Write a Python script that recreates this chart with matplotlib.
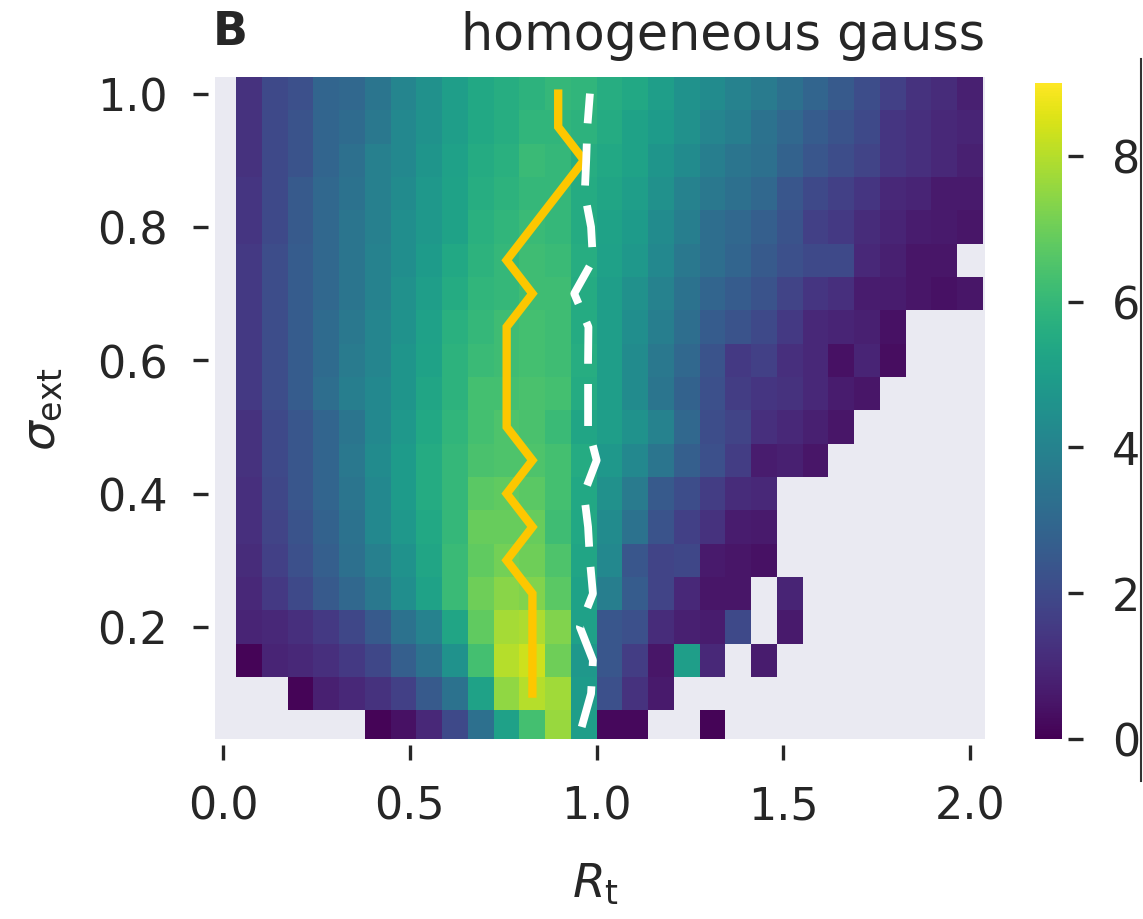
import numpy as np
import matplotlib
matplotlib.use('Agg')
import matplotlib.pyplot as plt
from matplotlib.lines import Line2D

n = np.nan

# grid of the scan
r_t = np.linspace(0, 2, 30)
sigma_ext = [0.05, 0.1, 0.15, 0.2, 0.25, 0.3, 0.35, 0.4, 0.45, 0.5,
             0.55, 0.6, 0.65, 0.7, 0.75, 0.8, 0.85, 0.9, 0.95, 1.0]

# colour values, one row per sigma_ext (bottom -> top), one column per R_t
rate = np.array([
    [n, n, n, n, n, n, 0.1, 0.4, 1.0, 2.0, 3.3, 5.1, 6.3, 7.6, 5.0, 0.2, 0.2, n, n, 0.1, n, n, n, n, n, n, n, n, n, n],
    [n, n, n, 0.1, 0.8, 1.0, 1.3, 1.7, 2.5, 3.4, 5.2, 7.5, 8.0, 7.7, 4.9, 2.2, 1.3, 0.6, n, n, n, n, n, n, n, n, n, n, n, n],
    [n, 0.1, 0.9, 1.0, 1.2, 1.5, 1.9, 2.7, 3.4, 4.6, 6.3, 8.0, 8.3, 7.0, 4.8, 2.4, 1.6, 0.5, 5.0, 1.0, n, 0.7, n, n, n, n, n, n, n, n],
    [n, 0.9, 1.0, 1.2, 1.5, 1.9, 2.5, 3.4, 4.0, 5.3, 6.8, 7.8, 7.9, 7.3, 5.1, 2.4, 2.2, 1.1, 0.8, 0.7, 2.0, n, 0.6, n, n, n, n, n, n, n],
    [n, 1.0, 1.5, 2.0, 2.5, 3.0, 3.6, 4.4, 5.2, 6.1, 7.0, 7.4, 7.3, 6.7, 5.2, 3.8, 2.6, 1.8, 1.0, 0.5, 0.5, n, 0.9, n, n, n, n, n, n, n],
    [n, 1.1, 1.7, 2.2, 2.7, 3.3, 3.9, 4.6, 5.3, 6.1, 6.8, 7.1, 7.0, 6.5, 5.3, 4.2, 2.4, 1.8, 1.9, 0.6, 0.5, 0.4, n, n, n, n, n, n, n, n],
    [n, 1.2, 1.8, 2.3, 2.8, 3.4, 4.2, 4.8, 5.4, 6.0, 6.9, 6.9, 6.9, 6.2, 5.4, 4.3, 3.4, 2.3, 1.7, 1.3, 0.7, 0.6, n, n, n, n, n, n, n, n],
    [n, 1.2, 1.9, 2.4, 2.9, 3.5, 4.2, 4.9, 5.5, 6.0, 6.7, 6.8, 6.7, 6.3, 5.4, 4.5, 3.7, 2.5, 2.1, 1.6, 1.1, 1.0, n, n, n, n, n, n, n, n],
    [n, 1.3, 2.0, 2.4, 2.9, 3.6, 4.3, 4.9, 5.5, 6.0, 6.4, 6.5, 6.5, 6.3, 5.5, 4.8, 4.2, 3.5, 2.7, 2.2, 1.6, 0.7, 0.8, 0.5, n, n, n, n, n, n],
    [n, 1.3, 2.0, 2.4, 2.9, 3.5, 4.2, 4.8, 5.4, 5.9, 6.3, 6.5, 6.4, 6.1, 5.3, 5.0, 4.6, 4.0, 3.0, 2.1, 1.8, 1.2, 1.0, 0.8, 0.5, n, n, n, n, n],
    [n, 1.5, 2.1, 2.6, 3.2, 3.8, 4.2, 4.7, 5.3, 5.8, 6.3, 6.3, 6.4, 6.3, 5.5, 5.0, 4.3, 3.5, 2.8, 2.2, 1.6, 1.4, 1.3, 1.0, 0.7, 0.5, n, n, n, n],
    [n, 1.5, 2.1, 2.6, 3.1, 3.7, 4.1, 4.7, 5.2, 5.8, 6.1, 6.2, 6.3, 6.2, 5.6, 5.0, 4.3, 3.6, 3.0, 2.3, 1.5, 1.7, 1.2, 1.0, 0.4, 0.9, 0.3, n, n, n],
    [n, 1.5, 2.1, 2.6, 3.1, 3.6, 4.1, 4.6, 5.1, 5.7, 6.0, 6.2, 6.3, 6.2, 5.5, 5.0, 4.4, 3.8, 3.2, 2.6, 2.3, 2.0, 1.5, 1.0, 0.9, 0.8, 0.4, n, n, n],
    [n, 1.5, 2.1, 2.6, 3.0, 3.5, 4.0, 4.5, 5.0, 5.5, 5.9, 6.0, 6.2, 6.2, 5.5, 5.0, 4.5, 4.0, 3.4, 2.9, 2.6, 2.3, 1.8, 1.4, 1.2, 0.7, 0.7, 0.5, 0.4, 0.5],
    [n, 1.5, 2.1, 2.6, 3.0, 3.5, 4.0, 4.4, 4.9, 5.4, 5.8, 6.0, 6.2, 6.1, 5.6, 5.1, 4.8, 4.2, 3.6, 3.2, 2.9, 2.5, 2.2, 2.0, 2.0, 1.0, 0.8, 0.5, 0.5, n],
    [n, 1.4, 2.0, 2.5, 3.0, 3.5, 3.9, 4.4, 4.8, 5.2, 5.7, 5.9, 6.1, 6.0, 5.5, 5.2, 4.9, 4.3, 3.8, 3.2, 3.0, 2.7, 2.3, 1.7, 1.5, 1.1, 0.9, 0.7, 0.6, 0.5],
    [n, 1.4, 2.0, 2.5, 3.0, 3.4, 3.9, 4.3, 4.8, 5.2, 5.6, 5.8, 6.0, 6.0, 5.5, 5.3, 5.0, 4.5, 4.0, 3.6, 3.3, 3.0, 2.4, 2.0, 1.7, 1.4, 1.0, 0.9, 0.6, 0.6],
    [n, 1.3, 2.0, 2.3, 2.9, 3.3, 3.9, 4.2, 4.7, 5.1, 5.5, 5.7, 6.1, 6.0, 5.6, 5.4, 5.2, 4.7, 4.3, 3.8, 3.5, 3.3, 2.8, 2.4, 2.1, 1.8, 1.4, 1.2, 1.0, 0.8],
    [n, 1.3, 2.0, 2.3, 2.9, 3.1, 3.6, 4.2, 4.6, 5.0, 5.4, 5.6, 5.9, 5.9, 5.8, 5.5, 5.2, 4.9, 4.5, 4.1, 3.8, 3.4, 3.0, 2.6, 2.3, 2.0, 1.4, 1.2, 1.0, 0.9],
    [n, 1.3, 2.0, 2.2, 2.9, 3.0, 3.5, 4.1, 4.5, 5.0, 5.4, 5.6, 5.8, 6.0, 5.9, 5.6, 5.4, 5.0, 4.6, 4.3, 4.0, 3.7, 3.3, 2.9, 2.5, 2.1, 1.7, 1.3, 1.1, 0.8],
])

# gold line (solid)
gold_sigma = [0.1, 0.15, 0.2, 0.25, 0.3, 0.35, 0.4, 0.45, 0.5, 0.55,
              0.6, 0.65, 0.7, 0.75, 0.8, 0.85, 0.9, 0.95, 1.0]
gold_rt = [0.828, 0.828, 0.828, 0.828, 0.759, 0.828, 0.759, 0.828, 0.759, 0.759,
           0.759, 0.759, 0.828, 0.759, 0.828, 0.897, 0.966, 0.897, 0.897]

# white line (dashed)
white_sigma = sigma_ext
white_rt = [0.96, 0.985, 0.99, 0.955, 0.99, 0.982, 0.977, 0.966, 1.0, 0.977,
            0.977, 0.977, 0.978, 0.94, 0.99, 0.985, 0.968, 0.972, 0.975, 0.982]

ink = '#262626'
plt.rcParams['font.family'] = 'DejaVu Sans'
plt.rcParams['text.color'] = ink
plt.rcParams['axes.labelcolor'] = ink
plt.rcParams['xtick.color'] = ink
plt.rcParams['ytick.color'] = ink

fig = plt.figure(figsize=(11.43, 9.2), dpi=100)
ax = fig.add_axes([0.1881, 0.1957, 0.6737, 0.7196])
ax.set_facecolor('#eaeaf2')

mesh = ax.pcolormesh(r_t, sigma_ext, rate, cmap='viridis', vmin=0, vmax=9,
                     shading='nearest')
ax.plot(gold_rt, gold_sigma, color='#fdc700', lw=6.0, solid_joinstyle='miter')
ax.plot(white_rt, white_sigma, color='white', lw=5.6, dashes=(5.4, 2.6))

ax.set_xlim(-0.022, 2.04)
ax.set_ylim(0.032, 1.025)
ax.set_xticks([0.0, 0.5, 1.0, 1.5, 2.0])
ax.set_yticks([0.2, 0.4, 0.6, 0.8, 1.0])
for s in ax.spines.values():
    s.set_visible(False)
ax.spines['left'].set_position(('outward', 5))
ax.spines['bottom'].set_position(('outward', 4))
ax.tick_params(labelsize=32, length=11, width=2.4, pad=18)

ax.set_xlabel(r'$R_{\mathrm{t}}$', fontsize=34)
ax.xaxis.set_label_coords(0.4935, -0.184)
ax.xaxis.label.set_va('top')
ax.set_ylabel(r'$\sigma_{\mathrm{ext}}$', fontsize=34)
ax.yaxis.set_label_coords(-0.196, 0.5)

ax.set_title('homogeneous gauss', loc='right', fontsize=36.5, pad=20)
ax.text(-0.003, 1.035, 'B', transform=ax.transAxes, fontsize=33,
        fontweight='bold', va='bottom', ha='left')

cax = fig.add_axes([0.9055, 0.1957, 0.0236, 0.713])
cbar = fig.colorbar(mesh, cax=cax, ticks=[0, 2, 4, 6, 8])
cbar.outline.set_visible(False)
cax.spines['right'].set_position(('outward', 4))
cax.tick_params(labelsize=32, length=11, width=2.4, pad=21)

# edge of the neighbouring panel, cut by the crop
fig.add_artist(Line2D([0.9985, 0.9985], [0.15, 0.935], transform=fig.transFigure,
                      color='#333333', lw=1.5))

fig.savefig('out.png', dpi=100)
